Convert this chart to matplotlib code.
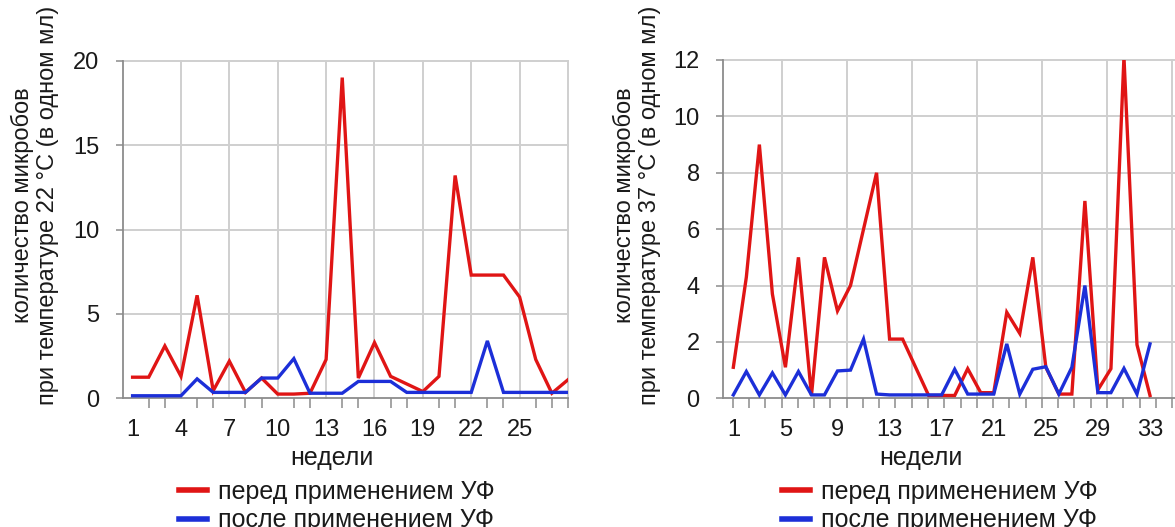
import matplotlib
matplotlib.use('Agg')
import matplotlib.pyplot as plt
import numpy as np

plt.rcParams['font.family'] = ['Liberation Sans', 'DejaVu Sans']

# Left chart: 22 °C, weekly counts
weeks_22 = list(range(1, 29))
before_22 = [1.25, 1.25, 3.1, 1.3, 6.1, 0.45, 2.2, 0.35, 1.2, 0.25,
             0.25, 0.3, 2.3, 19.0, 1.2, 3.3, 1.3, 0.85, 0.4, 1.3,
             13.2, 7.3, 7.3, 7.3, 6.0, 2.3, 0.3, 1.1]
after_22 = [0.15, 0.15, 0.15, 0.15, 1.15, 0.35, 0.35, 0.35, 1.2, 1.2,
            2.35, 0.3, 0.3, 0.3, 1.0, 1.0, 1.0, 0.35, 0.35, 0.35,
            0.35, 0.35, 3.4, 0.35, 0.35, 0.35, 0.35, 0.35]
xticks_22 = [1, 4, 7, 10, 13, 16, 19, 22, 25]
yticks_22 = [0, 5, 10, 15, 20]

# Right chart: 37 °C, weekly counts
weeks_37 = list(range(1, 34))
before_37 = [1.1, 4.3, 9.0, 3.7, 1.1, 5.0, 0.1, 5.0, 3.1, 4.0,
             6.0, 8.0, 2.1, 2.1, 1.1, 0.1, 0.1, 0.1, 1.05, 0.2,
             0.2, 3.05, 2.3, 5.0, 1.1, 0.15, 0.15, 7.0, 0.3, 1.05,
             12.1, 1.9, 0.1]
after_37 = [0.12, 0.95, 0.12, 0.9, 0.12, 0.95, 0.12, 0.12, 0.97, 1.0,
            2.1, 0.15, 0.12, 0.12, 0.12, 0.12, 0.12, 1.03, 0.15, 0.15,
            0.15, 1.93, 0.15, 1.03, 1.12, 0.15, 1.1, 4.0, 0.2, 0.2,
            1.06, 0.15, 1.93]
xticks_37 = [1, 5, 9, 13, 17, 21, 25, 29, 33]
yticks_37 = [0, 2, 4, 6, 8, 10, 12]

ylabel_22 = 'количество микробов\nпри температуре 22 °C (в одном мл)'
ylabel_37 = 'количество микробов\nпри температуре 37 °C (в одном мл)'
xlabel = 'недели'
legend_labels = ['перед применением УФ', 'после применением УФ']

RED = '#e01515'
BLUE = '#1c2fd8'
GRID = '#cfcfcf'
AXIS = '#8c8c8c'
TEXT = '#1a1a1a'
FS = 16

W, H = 1175, 527


def px_axes(fig, x0, y0, x1, y1):
    """Add axes given pixel box (top-left origin)."""
    return fig.add_axes([x0 / W, 1 - y1 / H, (x1 - x0) / W, (y1 - y0) / H])


def draw_panel(ax, weeks, before, after, xticks, yticks, xlim, vgrid, minor):
    ax.set_xlim(*xlim)
    ax.set_ylim(yticks[0], yticks[-1])
    for y in yticks[1:]:
        ax.axhline(y, color=GRID, lw=1.4, zorder=0, clip_on=False)
    for x in vgrid:
        ax.axvline(x, color=GRID, lw=1.4, zorder=0, clip_on=False)
    red, = ax.plot(weeks, before, color=RED, lw=2.4, solid_joinstyle='miter', zorder=3)
    blue, = ax.plot(weeks, after, color=BLUE, lw=2.4, solid_joinstyle='miter', zorder=4)

    for side in ('top', 'right'):
        ax.spines[side].set_visible(False)
    for side in ('left', 'bottom'):
        ax.spines[side].set_color(AXIS)
        ax.spines[side].set_linewidth(1.3)

    ax.set_xticks(xticks)
    ax.set_xticks(minor, minor=True)
    ax.set_yticks(yticks)
    ax.tick_params(axis='x', which='major', length=0, pad=15, labelsize=FS + 1, labelcolor=TEXT)
    ax.tick_params(axis='x', which='minor', length=7, width=1.1, color=AXIS)
    ax.tick_params(axis='y', length=5, width=1.1, color=AXIS, pad=12, labelsize=FS + 1, labelcolor=TEXT)
    return red, blue


fig = plt.figure(figsize=(W / 100, H / 100), dpi=100)

ax1 = px_axes(fig, 123, 60.7, 568, 398.3)
lines = draw_panel(ax1, weeks_22, before_22, after_22, xticks_22, yticks_22,
                   (0.405, 28), np.arange(4, 29, 3), weeks_22)

ax2 = px_axes(fig, 723.3, 60, 1175, 398.3)
draw_panel(ax2, weeks_37, before_37, after_37, xticks_37, yticks_37,
           (0.23, 34.92), np.arange(4.7, 35, 5), np.arange(0.95, 35, 1.25))

for cx, lab in ((35, ylabel_22), (637, ylabel_37)):
    fig.text(cx / W, 1 - 205 / H, lab, rotation=90, ha='center', va='center',
             multialignment='center', linespacing=1.15, fontsize=FS + 1, color=TEXT)

for cx in (332, 921):
    fig.text(cx / W, 1 - 458 / H, xlabel, ha='center', va='center', fontsize=FS + 2, color=TEXT)

for lx in (166, 769):
    leg = fig.legend(lines, legend_labels, loc='upper left',
                     bbox_to_anchor=(lx / W, 1 - 467 / H), frameon=False,
                     borderpad=0, handlelength=1.15, handletextpad=0.42,
                     labelspacing=0.2, fontsize=FS + 2)
    for h in leg.legend_handles:
        h.set_linewidth(4)
    for t in leg.get_texts():
        t.set_color(TEXT)

fig.savefig('out.png', dpi=100)
